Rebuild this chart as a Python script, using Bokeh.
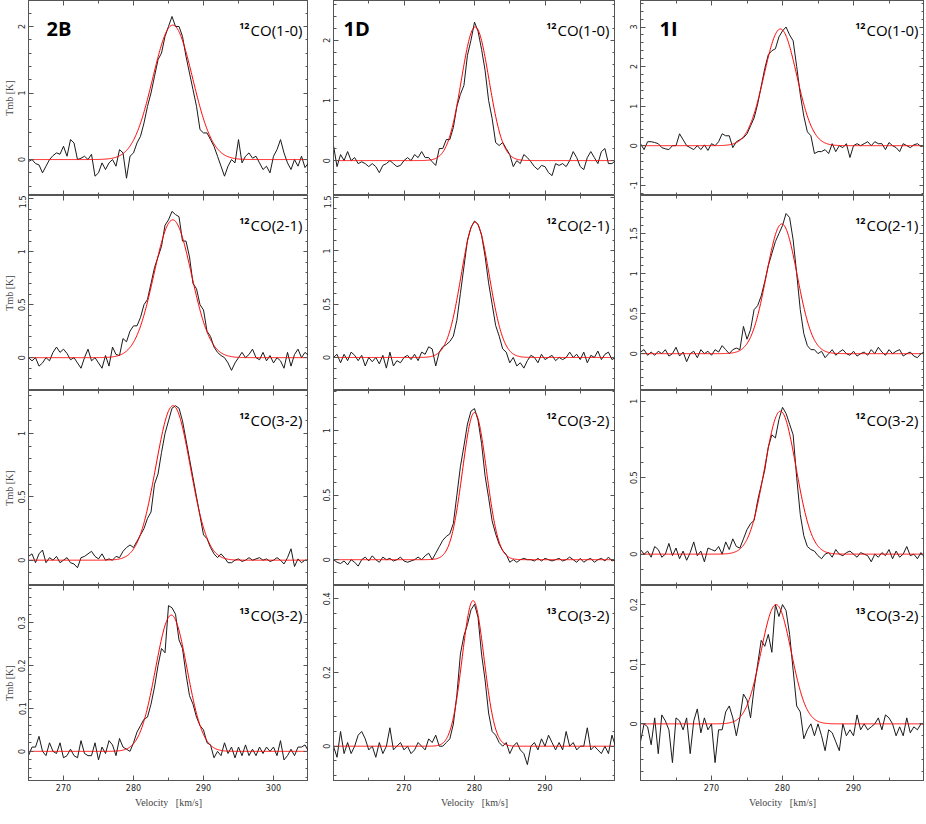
import numpy as np
from bokeh.plotting import figure
from bokeh.layouts import column, row
from bokeh.models import (Range1d, LinearAxis, FixedTicker, Label, CustomJSTickFormatter, Grid,
                          CustomLabelingPolicy)
from bokeh.embed import file_html
from bokeh.resources import INLINE

# ---------------- data ----------------
SOURCES = ["2B", "1D", "1I"]
ISOTOPES = ["12", "12", "12", "13"]
TRANSITIONS = ["CO(1-0)", "CO(2-1)", "CO(3-2)", "CO(3-2)"]
V_START = {"2B": 265.0, "1D": 260.0, "1I": 260.0}   # first channel velocity [km/s]
CHAN = 0.5                                          # channel width [km/s]

T_2B_12CO10 = [-0.03, 0.0, -0.06, -0.08, -0.2, -0.1, 0.0, 0.06, 0.1, 0.08,
               0.2, 0.05, 0.3, 0.25, 0.0, 0.02, 0.05, 0.0, 0.08, -0.25,
               -0.2, -0.05, -0.15, -0.05, 0.0, -0.1, 0.15, 0.1, -0.28, 0.05,
               0.1, 0.25, 0.35, 0.55, 0.8, 1.0, 1.25, 1.5, 1.6, 1.85,
               2.0, 2.15, 2.0, 2.0, 1.85, 1.55, 1.3, 1.05, 0.8, 0.45,
               0.4, 0.4, 0.3, 0.2, 0.05, -0.1, -0.25, -0.1, 0.0, -0.05,
               0.3, -0.05, 0.05, 0.1, 0.02, 0.05, -0.05, -0.15, -0.1, -0.2,
               0.05, 0.15, 0.3, 0.1, -0.05, -0.15, 0.0, -0.1, 0.05, -0.12,
               -0.05]
T_2B_12CO21 = [0.0, -0.03, 0.0, -0.08, -0.05, 0.0, -0.03, 0.05, 0.1, 0.05,
               0.08, 0.04, -0.02, 0.0, -0.05, -0.1, 0.0, 0.08, -0.03, 0.0,
               -0.05, -0.1, 0.02, -0.08, 0.1, 0.03, 0.02, 0.18, 0.15, 0.25,
               0.3, 0.3, 0.38, 0.5, 0.55, 0.7, 0.85, 0.95, 1.05, 1.25,
               1.3, 1.38, 1.35, 1.33, 1.1, 1.1, 0.95, 0.7, 0.65, 0.5,
               0.45, 0.25, 0.2, 0.1, 0.05, 0.02, 0.0, -0.05, -0.12, -0.05,
               0.0, 0.05, 0.0, 0.03, 0.08, 0.0, -0.02, 0.05, -0.03, 0.02,
               -0.05, 0.0, -0.03, -0.1, 0.05, -0.08, 0.03, 0.08, 0.0, 0.05,
               0.02]
T_2B_12CO32 = [0.03, 0.05, -0.02, 0.05, 0.08, -0.02, 0.02, 0.0, 0.03, -0.02,
               0.0, 0.02, -0.02, -0.03, -0.06, 0.02, 0.03, 0.05, 0.07, 0.03,
               0.01, 0.05, 0.0, 0.01, 0.0, 0.03, 0.02, 0.07, 0.1, 0.12,
               0.1, 0.15, 0.2, 0.25, 0.33, 0.38, 0.6, 0.68, 0.85, 1.0,
               1.1, 1.2, 1.22, 1.2, 1.1, 0.95, 0.8, 0.65, 0.5, 0.35,
               0.2, 0.17, 0.1, 0.05, 0.02, 0.05, 0.02, -0.02, -0.02, 0.0,
               0.01, -0.01, 0.0, 0.02, 0.0, 0.01, 0.02, 0.0, 0.01, -0.01,
               0.0, 0.02, 0.0, -0.03, 0.02, 0.09, -0.05, 0.01, -0.02, 0.0,
               0.0]
T_2B_13CO32 = [-0.01, 0.01, 0.01, 0.035, 0.0, -0.01, 0.02, 0.0, -0.005, 0.02,
               -0.015, -0.01, 0.005, -0.01, -0.015, 0.025, -0.005, -0.01, -0.01, 0.02,
               -0.02, 0.01, -0.005, 0.025, 0.015, -0.01, 0.03, 0.01, 0.005, 0.0,
               0.02, 0.045, 0.06, 0.075, 0.08, 0.11, 0.15, 0.2, 0.24, 0.23,
               0.34, 0.335, 0.32, 0.26, 0.24, 0.18, 0.13, 0.11, 0.08, 0.06,
               0.05, 0.02, 0.015, -0.015, 0.0, -0.01, 0.02, -0.005, 0.01, -0.015,
               0.01, -0.01, 0.015, -0.01, 0.005, -0.01, 0.01, -0.005, 0.01, 0.0,
               0.01, -0.01, 0.025, -0.02, -0.01, 0.005, -0.01, 0.01, 0.01, 0.015,
               0.0]

T_1D_12CO10 = [0.25, -0.1, 0.1, 0.0, 0.15, 0.0, 0.05, -0.05, -0.02, -0.05,
               -0.1, -0.05, -0.1, -0.2, -0.08, -0.05, 0.0, -0.05, -0.1, -0.08,
               0.0, 0.05, 0.0, 0.1, 0.05, 0.15, 0.05, 0.05, -0.02, -0.08,
               0.2, 0.2, 0.35, 0.35, 0.55, 0.9, 1.1, 1.25, 1.75, 2.0,
               2.3, 2.15, 1.85, 1.5, 1.0, 0.7, 0.3, 0.25, 0.3, 0.2,
               0.1, -0.1, 0.0, -0.05, 0.1, 0.05, -0.02, -0.1, -0.15, -0.08,
               -0.1, -0.2, -0.25, -0.05, -0.08, -0.05, -0.1, 0.0, 0.15, 0.05,
               -0.1, -0.15, 0.05, 0.15, 0.05, -0.05, 0.15, 0.2, -0.05, -0.05,
               0.0]
T_1D_12CO21 = [0.0, 0.03, -0.05, 0.03, -0.03, 0.05, 0.02, -0.03, 0.02, -0.08,
               0.0, -0.04, 0.0, -0.06, 0.02, -0.1, 0.05, -0.08, -0.03, -0.05,
               0.0, 0.02, -0.02, 0.03, -0.03, 0.05, 0.03, 0.1, 0.08, -0.08,
               0.05, 0.1, 0.12, 0.15, 0.2, 0.35, 0.6, 0.85, 1.1, 1.22,
               1.28, 1.25, 1.15, 0.95, 0.7, 0.5, 0.3, 0.2, 0.08, 0.05,
               -0.05, 0.0, -0.08, -0.05, -0.1, -0.03, 0.02, 0.0, -0.05, 0.03,
               -0.02, 0.0, 0.02, -0.03, 0.0, -0.02, 0.0, 0.05, 0.0, 0.03,
               -0.02, 0.05, -0.05, 0.02, 0.0, 0.06, -0.02, 0.03, 0.05, -0.02,
               0.0]
T_1D_12CO32 = [0.0, -0.02, -0.03, -0.01, -0.04, 0.0, -0.02, -0.05, 0.0, 0.02,
               -0.01, 0.03, 0.0, -0.02, 0.02, 0.0, 0.01, -0.01, 0.0, 0.02,
               -0.01, -0.02, -0.01, 0.0, 0.02, 0.0, 0.03, 0.05, 0.0, 0.05,
               0.1, 0.15, 0.18, 0.2, 0.28, 0.5, 0.72, 0.88, 1.05, 1.15,
               1.17, 1.08, 0.9, 0.65, 0.48, 0.3, 0.2, 0.12, 0.07, 0.04,
               -0.02, 0.0, -0.02, 0.0, 0.01, 0.0, 0.0, -0.01, 0.01, -0.01,
               0.01, 0.0, -0.01, 0.0, 0.01, -0.01, 0.0, 0.02, 0.0, -0.02,
               0.01, -0.02, 0.0, 0.01, -0.02, 0.0, 0.01, -0.01, 0.02, -0.01,
               0.0]
T_1D_13CO32 = [0.0, -0.03, 0.04, -0.02, 0.01, -0.02, 0.0, 0.03, 0.04, 0.02,
               -0.01, 0.0, -0.03, 0.01, -0.02, 0.0, 0.05, -0.01, 0.0, 0.01,
               -0.01, 0.0, -0.02, -0.01, 0.01, 0.0, -0.01, 0.02, 0.01, 0.03,
               0.0, 0.0, 0.01, 0.02, 0.06, 0.14, 0.25, 0.3, 0.33, 0.37,
               0.385, 0.35, 0.25, 0.18, 0.09, 0.04, 0.03, 0.01, 0.0, 0.01,
               -0.02, 0.0, 0.01, -0.01, -0.02, -0.05, 0.0, 0.01, -0.01, 0.02,
               0.0, 0.03, 0.01, -0.01, 0.01, -0.01, 0.04, 0.0, 0.01, -0.01,
               0.0, 0.0, 0.05, -0.01, 0.0, -0.01, -0.02, 0.0, -0.02, 0.03,
               0.0]

T_1I_12CO10 = [0.05, -0.1, 0.1, 0.1, 0.08, 0.05, -0.05, -0.08, -0.1, 0.0,
               0.0, 0.3, 0.15, 0.0, -0.05, -0.1, 0.0, -0.1, 0.02, -0.12,
               0.05, 0.0, 0.1, 0.3, 0.25, 0.25, -0.05, 0.1, 0.15, 0.2,
               0.3, 0.5, 0.7, 1.05, 1.5, 1.95, 2.3, 2.4, 2.45, 2.75,
               2.9, 3.0, 2.8, 2.65, 2.0, 1.3, 0.75, 0.35, 0.25, -0.2,
               -0.15, -0.15, -0.1, -0.2, 0.05, -0.15, 0.0, -0.05, 0.05, -0.3,
               0.0, 0.05, 0.0, 0.05, 0.1, 0.0, 0.1, 0.05, 0.05, -0.1,
               0.08, 0.0, -0.05, -0.15, 0.05, 0.0, -0.05, 0.02, 0.05, -0.02,
               0.0]
T_1I_12CO21 = [0.02, 0.05, -0.02, 0.02, -0.02, 0.03, 0.0, 0.05, -0.03, 0.0,
               0.08, -0.03, 0.02, -0.1, 0.0, 0.03, -0.05, 0.05, 0.0, 0.03,
               -0.02, 0.05, 0.02, 0.1, 0.05, 0.0, 0.05, 0.07, 0.05, 0.34,
               0.18, 0.3, 0.55, 0.6, 0.72, 0.9, 1.1, 1.25, 1.4, 1.5,
               1.6, 1.75, 1.7, 1.42, 1.0, 0.55, 0.25, 0.1, 0.05, 0.05,
               0.0, 0.03, -0.05, 0.0, 0.05, -0.02, 0.02, 0.05, 0.0, -0.02,
               0.03, -0.03, 0.0, 0.02, -0.02, 0.05, 0.0, 0.08, 0.02, -0.02,
               0.05, 0.0, 0.03, 0.05, -0.03, 0.0, 0.02, -0.03, -0.05, 0.0,
               0.02]
T_1I_12CO32 = [0.03, 0.0, 0.02, -0.02, 0.05, 0.03, -0.02, 0.0, 0.07, -0.01,
               0.04, -0.03, 0.02, -0.04, 0.01, 0.08, -0.01, 0.02, -0.05, 0.04,
               0.03, 0.02, 0.05, 0.0, 0.08, 0.03, 0.1, 0.05, 0.04, 0.1,
               0.16, 0.2, 0.22, 0.35, 0.45, 0.55, 0.7, 0.78, 0.76, 0.88,
               0.96, 0.92, 0.85, 0.78, 0.5, 0.26, 0.12, 0.05, 0.03, 0.02,
               -0.01, -0.03, 0.0, 0.01, -0.02, 0.03, 0.0, -0.01, 0.01, 0.02,
               0.0, -0.02, 0.01, 0.0, -0.01, -0.05, 0.0, -0.02, 0.01, -0.01,
               0.03, -0.03, 0.02, -0.02, 0.0, 0.05, -0.01, 0.0, -0.03, 0.01,
               -0.02]
T_1I_13CO32 = [-0.03, 0.0, -0.005, -0.035, 0.01, -0.05, 0.015, 0.005, -0.01, -0.065,
               0.01, 0.005, -0.01, 0.01, -0.05, 0.005, 0.025, -0.015, 0.01, -0.01,
               0.0, -0.065, -0.01, -0.01, 0.02, 0.03, 0.01, -0.02, 0.01, 0.05,
               0.04, 0.01, 0.06, 0.1, 0.14, 0.13, 0.15, 0.12, 0.2, 0.18,
               0.2, 0.19, 0.15, 0.09, 0.03, 0.02, -0.025, -0.01, 0.0, -0.02,
               0.0, -0.02, -0.045, -0.01, -0.015, -0.03, -0.045, 0.0, -0.02, -0.01,
               -0.02, 0.015, -0.01, 0.0, -0.01, -0.005, 0.0, 0.01, -0.01, 0.015,
               0.01, 0.0, -0.02, -0.005, -0.02, 0.01, -0.015, -0.005, -0.01, 0.0,
               0.0]

# Gaussian fit parameters (peak K, centre km/s, FWHM km/s), one entry per line
FIT_AMP_2B = [2.02, 1.30, 1.22, 0.318]
FIT_V0_2B = [285.6, 285.6, 285.65, 285.4]
FIT_FWHM_2B = [6.7, 6.3, 5.8, 5.3]
FIT_AMP_1D = [2.22, 1.27, 1.14, 0.395]
FIT_V0_1D = [280.1, 280.1, 280.0, 279.8]
FIT_FWHM_1D = [4.6, 4.7, 4.0, 3.65]
FIT_AMP_1I = [2.95, 1.62, 0.935, 0.20]
FIT_V0_1I = [279.7, 279.9, 279.7, 279.1]
FIT_FWHM_1I = [5.4, 5.1, 5.2, 5.0]

X_TICKS = {"2B": [270, 280, 290, 300], "1D": [270, 280, 290], "1I": [270, 280, 290]}
Y_TICKS = {"2B": [[0, 1, 2], [0, 0.5, 1, 1.5], [0, 0.5, 1], [0, 0.1, 0.2, 0.3]],
           "1D": [[0, 1, 2], [0, 0.5, 1, 1.5], [0, 0.5, 1], [0, 0.2, 0.4]],
           "1I": [[-1, 0, 1, 2, 3], [0, 0.5, 1, 1.5], [0, 0.5, 1], [0, 0.1, 0.2]]}

SPECTRA = {"2B": [T_2B_12CO10, T_2B_12CO21, T_2B_12CO32, T_2B_13CO32],
           "1D": [T_1D_12CO10, T_1D_12CO21, T_1D_12CO32, T_1D_13CO32],
           "1I": [T_1I_12CO10, T_1I_12CO21, T_1I_12CO32, T_1I_13CO32]}
FITS = {"2B": (FIT_AMP_2B, FIT_V0_2B, FIT_FWHM_2B),
        "1D": (FIT_AMP_1D, FIT_V0_1D, FIT_FWHM_1D),
        "1I": (FIT_AMP_1I, FIT_V0_1I, FIT_FWHM_1I)}

# ---------------- layout / style ----------------
X_RANGE = {"2B": (265, 305), "1D": (260, 300), "1I": (260, 300)}
Y_RANGE = {"2B": [(-0.54, 2.39), (-0.31, 1.53), (-0.2, 1.34), (-0.068, 0.387)],
           "1D": [(-0.58, 2.66), (-0.31, 1.52), (-0.2, 1.31), (-0.093, 0.436)],
           "1I": [(-1.26, 3.67), (-0.46, 1.975), (-0.205, 1.07), (-0.095, 0.232)]}
FRAME_W = [280, 282, 284]
FRAME_H = 195
BORDER_L = [22, 25, 25]
NAME_DX = [18, 10, 19]
FRAME_COLOR = "#555555"
TICK_FONT = "DejaVu Sans"
LABEL_FONT = "Liberation Serif"
CO_WIDTH = 52

FMT = CustomJSTickFormatter(code="return String(Math.round(tick*1000)/1000);")
HIDE_LABELS = CustomLabelingPolicy(code="""
    const all = [];
    for (const i of indices) { all.push(i); }
    for (const i of all) { indices.unset(i); }
    return indices;
""")


def style_axis(ax, show_labels):
    ax.axis_line_color = FRAME_COLOR
    ax.axis_line_width = 1
    ax.major_tick_in = 5
    ax.major_tick_out = 0
    ax.minor_tick_in = 3
    ax.minor_tick_out = 0
    ax.major_tick_line_color = FRAME_COLOR
    ax.minor_tick_line_color = FRAME_COLOR
    ax.formatter = FMT
    if show_labels:
        ax.major_label_text_font = TICK_FONT
        ax.major_label_text_font_size = "8px"
        ax.major_label_text_color = "#222222"
        ax.major_label_standoff = 3
    else:
        ax.major_label_policy = HIDE_LABELS
        ax.major_label_text_font_size = "0px"
        ax.major_label_standoff = 0


def make_panel(ci, ri):
    src = SOURCES[ci]
    x0, x1 = X_RANGE[src]
    y0, y1 = Y_RANGE[src][ri]
    last = ri == 3
    p = figure(frame_width=FRAME_W[ci], frame_height=FRAME_H,
               x_range=Range1d(x0, x1), y_range=Range1d(y0, y1),
               output_backend="svg", toolbar_location=None, title=None,
               x_axis_location=None, y_axis_location=None,
               min_border_left=BORDER_L[ci], min_border_right=0, min_border_top=0,
               min_border_bottom=0)
    for r in p.center:
        if isinstance(r, Grid):
            r.visible = False
    p.outline_line_color = FRAME_COLOR
    p.background_fill_color = "white"
    p.border_fill_color = "white"

    # y axes
    yt = Y_TICKS[src][ri]
    ystep = yt[1] - yt[0]
    yminor = list(np.arange(yt[0] - 10 * ystep, yt[-1] + 10 * ystep, ystep / 5))
    yticker = FixedTicker(ticks=yt, minor_ticks=yminor)
    left = LinearAxis(ticker=yticker)
    style_axis(left, True)
    left.major_label_orientation = "vertical"
    if ci == 0:
        left.axis_label = "Tmb [K]"
        left.axis_label_text_font = LABEL_FONT
        left.axis_label_text_font_style = "normal"
        left.axis_label_text_font_size = "10px"
        left.axis_label_standoff = 1
    p.add_layout(left, "left")
    right = LinearAxis(ticker=yticker)
    style_axis(right, False)
    p.add_layout(right, "right")

    # x axes
    xt = X_TICKS[src]
    xminor = list(np.arange(250, 320, 5))
    xticker = FixedTicker(ticks=xt, minor_ticks=xminor)
    bottom = LinearAxis(ticker=xticker)
    style_axis(bottom, last)
    if last:
        bottom.axis_label = "Velocity \u2002[km/s]"
        bottom.axis_label_text_font = LABEL_FONT
        bottom.axis_label_text_font_style = "normal"
        bottom.axis_label_text_font_size = "10px"
        bottom.axis_label_standoff = 3
    p.add_layout(bottom, "below")
    top = LinearAxis(ticker=xticker)
    style_axis(top, False)
    p.add_layout(top, "above")

    # spectrum and fit
    spec = SPECTRA[src][ri]
    vel = V_START[src] + CHAN * np.arange(len(spec))
    p.line(vel, spec, line_color="#1a1a1a", line_width=1)
    amp, v0, fw = (FITS[src][k][ri] for k in range(3))
    vv = np.linspace(x0, x1, 500)
    p.line(vv, amp * np.exp(-4 * np.log(2) * (vv - v0) ** 2 / fw ** 2),
           line_color="red", line_width=1)

    # line label
    p.add_layout(Label(x=x1, y=y1, x_offset=-6, y_offset=-29, text=TRANSITIONS[ri],
                       text_align="right", text_baseline="alphabetic",
                       text_font="Open Sans", text_font_size="15px", text_color="black"))
    p.add_layout(Label(x=x1, y=y1, x_offset=-6 - CO_WIDTH - 1, y_offset=-25, text=ISOTOPES[ri],
                       text_align="right", text_baseline="alphabetic",
                       text_font="Open Sans", text_font_style="bold",
                       text_font_size="9px", text_color="black"))
    if ri == 0:
        p.add_layout(Label(x=x0, y=y1, x_offset=NAME_DX[ci], y_offset=-28, text=src,
                           text_align="left", text_baseline="alphabetic",
                           text_font="Open Sans", text_font_style="bold",
                           text_font_size="20px", text_color="black"))
    return p


rows = []
for ri in range(4):
    rows.append(row(*[make_panel(ci, ri) for ci in range(3)], spacing=0))
layout = column(*rows, spacing=0)

open("out.html", "w").write(file_html(layout, INLINE))
